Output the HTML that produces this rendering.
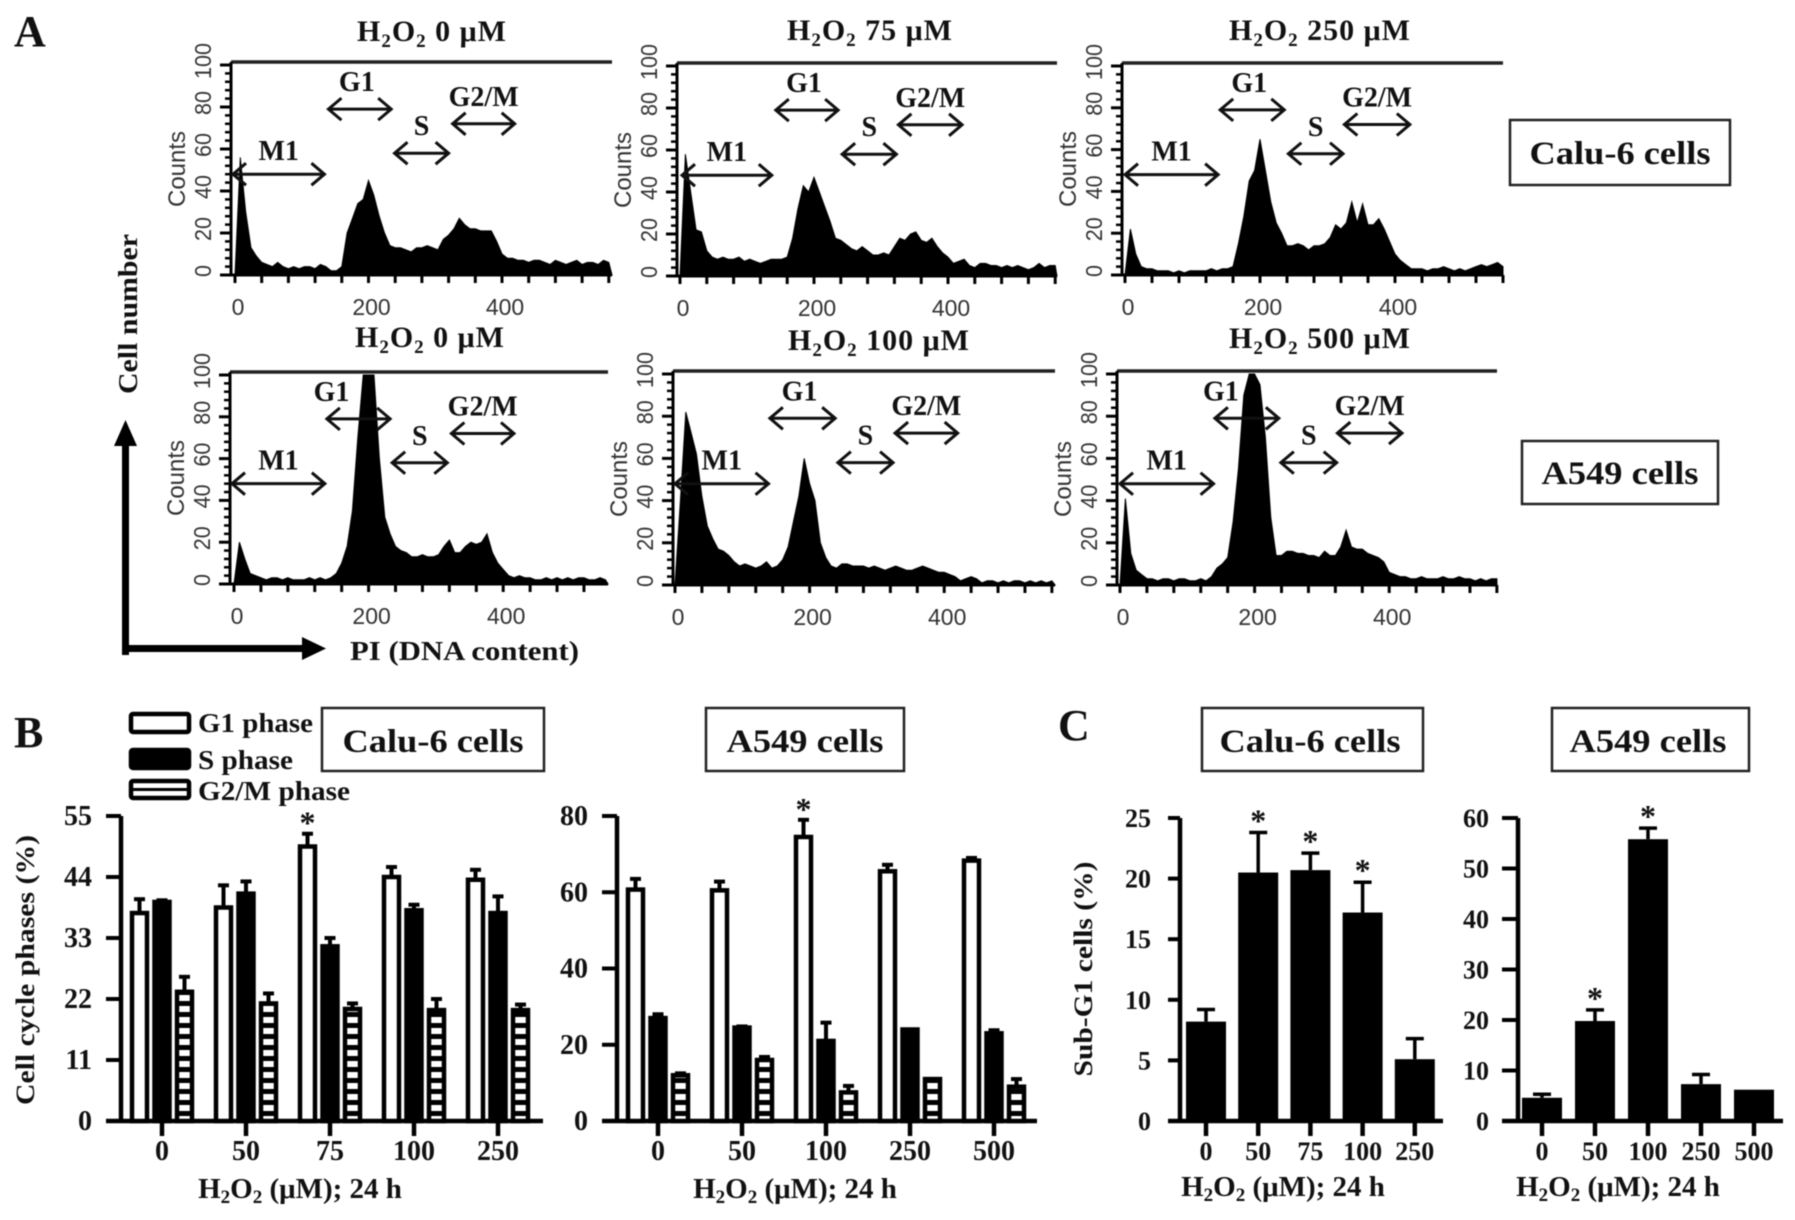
<!DOCTYPE html>
<html lang="en">
<head>
<meta charset="utf-8">
<title>Cell cycle flow cytometry figure</title>
<style>
html,body{margin:0;padding:0;background:#fff;width:1795px;height:1220px;overflow:hidden}
svg{display:block;filter:blur(.6px)}
text{font-family:"Liberation Serif",serif;font-weight:bold;fill:#111}
.sans{font-family:"Liberation Sans",sans-serif;font-weight:normal;fill:#333}
.ttl{font-size:30px;text-anchor:middle;letter-spacing:1px}
.xt{font-size:29px;text-anchor:middle}
.letter{font-size:44px}
.box{fill:#fff;stroke:#222;stroke-width:2.5}
.boxt{font-size:33px;text-anchor:middle}
</style>
</head>
<body>
<svg id="fig" xmlns="http://www.w3.org/2000/svg" width="1795" height="1220" viewBox="0 0 1795 1220">
<defs>
<pattern id="hatch" patternUnits="userSpaceOnUse" width="10" height="11"><rect width="10" height="11" fill="#fff"/><rect y="0" width="10" height="5" fill="#000"/></pattern>
</defs>
<rect width="1795" height="1220" fill="#fff"/>
<text class="letter" x="14" y="46">A</text>
<text class="letter" x="14" y="747">B</text>
<text class="letter" x="1058" y="740">C</text>

<text class="ttl" x="432" y="41">H<tspan dy="6" font-size="19">2</tspan><tspan dy="-6">O</tspan><tspan dy="6" font-size="19">2</tspan><tspan dy="-6"> 0 μM</tspan></text>
<text class="ttl" x="870" y="40">H<tspan dy="6" font-size="19">2</tspan><tspan dy="-6">O</tspan><tspan dy="6" font-size="19">2</tspan><tspan dy="-6"> 75 μM</tspan></text>
<text class="ttl" x="1320" y="40">H<tspan dy="6" font-size="19">2</tspan><tspan dy="-6">O</tspan><tspan dy="6" font-size="19">2</tspan><tspan dy="-6"> 250 μM</tspan></text>
<text class="ttl" x="430" y="347">H<tspan dy="6" font-size="19">2</tspan><tspan dy="-6">O</tspan><tspan dy="6" font-size="19">2</tspan><tspan dy="-6"> 0 μM</tspan></text>
<text class="ttl" x="879" y="350">H<tspan dy="6" font-size="19">2</tspan><tspan dy="-6">O</tspan><tspan dy="6" font-size="19">2</tspan><tspan dy="-6"> 100 μM</tspan></text>
<text class="ttl" x="1320" y="348">H<tspan dy="6" font-size="19">2</tspan><tspan dy="-6">O</tspan><tspan dy="6" font-size="19">2</tspan><tspan dy="-6"> 500 μM</tspan></text>

<g><rect class="box" x="1510" y="120" width="220" height="65"/><text class="boxt" x="1620" y="164" textLength="181" lengthAdjust="spacingAndGlyphs">Calu-6 cells</text></g>
<g><rect class="box" x="1522" y="441" width="196" height="63"/><text class="boxt" x="1620" y="484" textLength="157" lengthAdjust="spacingAndGlyphs">A549 cells</text></g>
<g><rect class="box" x="322" y="708" width="222" height="63"/><text class="boxt" x="433" y="752" textLength="181" lengthAdjust="spacingAndGlyphs">Calu-6 cells</text></g>
<g><rect class="box" x="706" y="708" width="198" height="63"/><text class="boxt" x="805" y="752" textLength="157" lengthAdjust="spacingAndGlyphs">A549 cells</text></g>
<g><rect class="box" x="1202" y="708" width="221" height="63"/><text class="boxt" x="1310" y="752" textLength="181" lengthAdjust="spacingAndGlyphs">Calu-6 cells</text></g>
<g><rect class="box" x="1552" y="708" width="197" height="63"/><text class="boxt" x="1648" y="752" textLength="157" lengthAdjust="spacingAndGlyphs">A549 cells</text></g>

<text font-size="27" transform="translate(137,314) rotate(-90)" text-anchor="middle" textLength="160" lengthAdjust="spacingAndGlyphs">Cell number</text>
<text font-size="27" x="350" y="660" textLength="229" lengthAdjust="spacingAndGlyphs">PI (DNA content)</text>
<g><rect x="122" y="440" width="7" height="215" fill="#000"/><path d="M125.500 420L137 446H114Z" fill="#000"/></g>
<g><rect x="122" y="645" width="185" height="7" fill="#000"/><path d="M326 648.500L302 637V660Z" fill="#000"/></g>

<g>
<g><rect x="131" y="714" width="58" height="18" rx="2" fill="#fff" stroke="#000" stroke-width="4.500"/><text font-size="27" x="198" y="732" textLength="115" lengthAdjust="spacingAndGlyphs">G1 phase</text></g>
<g><rect x="131" y="750" width="58" height="18" rx="2" fill="#000" stroke="#000" stroke-width="4.500"/><text font-size="27" x="198" y="769" textLength="95" lengthAdjust="spacingAndGlyphs">S phase</text></g>
<g><rect x="131" y="781" width="58" height="17" rx="2" fill="#fff" stroke="#000" stroke-width="4.500"/><rect x="131" y="788" width="58" height="3" fill="#000"/><text font-size="27" x="198" y="800" textLength="152" lengthAdjust="spacingAndGlyphs">G2/M phase</text></g>
</g>

<text font-size="26" transform="translate(34,970) rotate(-90)" text-anchor="middle" textLength="270" lengthAdjust="spacingAndGlyphs">Cell cycle phases (%)</text>
<text font-size="26" transform="translate(1092,969) rotate(-90)" text-anchor="middle" textLength="215" lengthAdjust="spacingAndGlyphs">Sub-G1 cells (%)</text>
<text class="xt" x="300" y="1198">H<tspan dy="5" font-size="19">2</tspan><tspan dy="-5">O</tspan><tspan dy="5" font-size="19">2</tspan><tspan dy="-5"> (μM); 24 h</tspan></text>
<text class="xt" x="795" y="1198">H<tspan dy="5" font-size="19">2</tspan><tspan dy="-5">O</tspan><tspan dy="5" font-size="19">2</tspan><tspan dy="-5"> (μM); 24 h</tspan></text>
<text class="xt" x="1283" y="1196">H<tspan dy="5" font-size="19">2</tspan><tspan dy="-5">O</tspan><tspan dy="5" font-size="19">2</tspan><tspan dy="-5"> (μM); 24 h</tspan></text>
<text class="xt" x="1618" y="1196">H<tspan dy="5" font-size="19">2</tspan><tspan dy="-5">O</tspan><tspan dy="5" font-size="19">2</tspan><tspan dy="-5"> (μM); 24 h</tspan></text>
<g id="charts"></g>
</svg>
<script>
// Histogram counts, one value per 8-unit PI bin (0, 8, 16, ...)
const histCalu0 = [0,56,30,13,9,6,5,4,6,4,3,4,3,4,4,3,5,4,2,2,4,20,27,34,36,45,38,28,20,14,13,13,12,11,13,13,14,13,12,17,19,22,27,24,22,22,21,21,21,16,10,8,8,7,7,6,7,7,6,5,7,6,5,6,7,5,6,6,5,7,6];
const histCalu75 = [0,58,40,22,21,12,9,8,9,8,8,9,7,8,7,6,7,8,8,8,9,18,32,43,40,47,40,33,26,18,17,15,13,12,14,12,10,10,11,10,14,18,17,20,21,17,16,18,14,11,9,6,7,8,5,4,6,6,5,5,4,5,4,5,4,3,4,6,4,5,5];
const histCalu250 = [0,22,10,4,3,3,2,2,2,1,2,1,2,2,2,2,3,2,3,3,4,15,28,45,50,65,50,35,25,20,14,14,15,14,12,14,14,15,18,24,22,25,35,25,34,24,24,27,22,16,10,7,5,3,3,3,2,3,3,4,3,2,3,2,3,4,5,4,5,6,4];
const histA5490 = [0,20,12,5,4,3,2,3,3,2,3,2,2,2,3,2,3,2,3,5,10,18,35,70,100,100,100,60,32,24,18,16,15,13,13,14,13,13,14,18,21,15,15,18,20,19,20,24,15,10,7,4,3,4,3,3,2,2,3,2,3,2,3,2,3,3,2,2,3,2,3];
const histA549100 = [0,40,82,72,62,42,28,22,17,16,14,11,9,10,9,8,9,11,8,9,12,18,30,42,60,48,40,20,13,9,8,10,10,9,9,9,8,9,8,7,8,9,8,7,7,8,9,8,7,6,6,5,4,2,3,4,3,1,2,2,1,2,1,2,2,1,2,1,2,1,2];
const histA549500 = [0,41,15,7,5,3,3,2,3,3,2,3,3,2,2,3,2,4,8,10,13,30,55,90,100,100,95,70,32,14,14,16,16,15,15,14,14,13,16,14,14,18,26,18,17,17,15,14,13,11,6,5,4,4,3,3,4,3,3,3,4,3,3,4,3,3,2,3,2,3,3];
const gateNames = ["M1","G1","S","G2/M"];
const gateLevels = [48,79,58,72];
const gatesCalu0 = [[-3,134],[140,234],[239,320],[326,419]];
const gatesCalu75 = [[3,137],[143,236],[242,323],[326,421]];
const gatesCalu250 = [[0,138],[141,236],[242,323],[325,422]];
const gatesA5490 = [[-3,135],[138,232],[235,317],[323,416]];
const gatesA549100 = [[0,139],[141,238],[242,324],[327,420]];
const gatesA549500 = [[0,139],[141,236],[239,322],[323,419]];
const histXTicks = [0,200,400];
const histYTicks = [0,20,40,60,80,100];

// Bar charts: means and upper error-bar values
const bDoses1 = ["0","50","75","100","250"];
const b1G1 = [37.500,38.500,49.500,44,43.500];
const b1G1Top = [40,42.500,51.800,45.800,45.300];
const b1S = [39.500,41,31.500,38,37.500];
const b1STop = [39.800,43.200,33,39,40.500];
const b1G2M = [23.300,21.200,20.200,20,20];
const b1G2MTop = [26,23,21.200,22,21];
const b1Stars = [0,0,1,0,0];
const b1Ticks = [0,11,22,33,44,55];

const bDoses2 = ["0","50","100","250","500"];
const b2G1 = [60.700,60.500,74.500,65.500,68.300];
const b2G1Top = [63.500,62.800,79,67.200,69];
const b2S = [27,24.500,21,24,23];
const b2STop = [28,24.800,25.800,24.200,23.800];
const b2G2M = [12,16,7.500,11,9];
const b2G2MTop = [12.500,16.800,9.200,11.200,11];
const b2Stars = [0,0,1,0,0];
const b2Ticks = [0,20,40,60,80];

const cDoses1 = ["0","50","75","100","250"];
const c1Vals = [8.200,20.500,20.700,17.200,5.100];
const c1Top = [9.200,23.800,22.100,19.700,6.800];
const c1Stars = [0,1,1,1,0];
const c1Ticks = [0,5,10,15,20,25];

const cDoses2 = ["0","50","100","250","500"];
const c2Vals = [4.600,19.800,55.800,7.300,6.200];
const c2Top = [5.300,22,58,9.200,6.300];
const c2Stars = [0,1,1,0,0];
const c2Ticks = [0,10,20,30,40,50,60];

const NS = "http://www.w3.org/2000/svg";
const root = document.getElementById("charts");
function svgEl(tag, attrs, parent, txt) {
  const el = document.createElementNS(NS, tag);
  for (const k in attrs) el.setAttribute(k, attrs[k]);
  if (txt !== undefined) el.textContent = txt;
  (parent || root).appendChild(el);
  return el;
}
function line(p, x1, y1, x2, y2, w, col) {
  return svgEl("line", {x1:x1, y1:y1, x2:x2, y2:y2, stroke:col || "#000", "stroke-width":w}, p);
}

function drawHist(name, frame, counts, gates, g1Shift) {
  const g = svgEl("g", {}, root);
  
  
  const unit = (frame.base - frame.top - 3) / 100;
  const xs = v => frame.zero + v * frame.k;
  const ys = v => frame.base - v * unit;
  const binW = 8;

  let d = "M" + xs(0) + " " + frame.base;
  counts.forEach((c, i) => {
    const a = xs(i * binW);
    if (a > frame.right) return;
    d += "L" + a.toFixed(1) + " " + ys(c).toFixed(1);
  });
  d += "L" + frame.right + " " + frame.base + "Z";
  const area = svgEl("path", {d:d, fill:"#000", stroke:"#000", "stroke-width":1}, g);
  
  

  const axes = svgEl("g", {}, g);
  
  
  line(axes, frame.axis, frame.top, frame.right, frame.top, 3.500, "#222");
  line(axes, frame.axis, frame.top, frame.axis, frame.base + 1, 3);
  line(axes, frame.axis - 8, frame.base, frame.right, frame.base, 3);
  for (let v = 0; v <= 100; v += 4) {
    line(axes, frame.axis - (v % 20 === 0 ? 11 : 6), ys(v), frame.axis, ys(v), v % 20 === 0 ? 3 : 2.500);
  }
  for (let v = 0; xs(v) <= frame.right; v += 40) {
    line(axes, xs(v), frame.base, xs(v), frame.base + 8, 3);
  }
  histXTicks.forEach(t => {
    const lab = svgEl("text", {class:"sans", x:xs(t) + 3, y:frame.base + 40, "font-size":23, "text-anchor":"middle"}, g, t);
    
    
  });
  histYTicks.forEach(t => {
    const s = String(t);
    const lab = svgEl("text", {class:"sans", "font-size":23, "text-anchor":"middle",
      transform:"translate(" + (frame.axis - 20) + "," + (ys(t) - 4) + ") rotate(-90)",
      textLength:s.length * 12, lengthAdjust:"spacingAndGlyphs"}, g, s);
    
    
  });
  const cl = svgEl("text", {class:"sans", "font-size":24, "text-anchor":"middle",
    transform:"translate(" + (frame.axis - 46) + "," + (frame.base - 106) + ") rotate(-90)"}, g, "Counts");
  
  

  gateNames.forEach((n, i) => {
    const ga = svgEl("g", {}, g);
    
    
    const a = xs(gates[i][0]), b = xs(gates[i][1]), y = ys(gateLevels[i]);
    svgEl("path", {d:"M" + a + " " + y + "H" + b + "M" + (a + 13) + " " + (y - 11) + "L" + a + " " + y + "L" + (a + 13) + " " + (y + 11) + "M" + (b - 13) + " " + (y - 11) + "L" + b + " " + y + "L" + (b - 13) + " " + (y + 11),
      fill:"none", stroke:"#111", "stroke-width":3}, ga);
    svgEl("text", {x:(a + b) / 2 + (n === "G1" ? g1Shift : 0), y:y - (i === 0 ? 14 : 18), "font-size":28, "text-anchor":"middle"}, ga, n);
  });
}

function drawBarFrame(g, f, cats, ticks, max, fs) {
  const ys = v => f.base - v / max * (f.base - f.top);
  line(g, f.axis, f.top, f.axis, f.base + 2, 4.500);
  line(g, f.left, f.base, f.right, f.base, 4.500);
  ticks.forEach(t => {
    line(g, f.left, ys(t), f.axis, ys(t), 4);
    const lab = svgEl("text", {x:f.axis - 29, y:ys(t) + 9, "font-size":fs, "text-anchor":"end"}, g, t);
    
    
  });
  cats.forEach((c, i) => {
    const x = f.x0 + i * f.dx;
    line(g, x, f.base, x, f.base + 15, 4.500);
    const lab = svgEl("text", {x:x, y:f.base + 39, "font-size":fs, "text-anchor":"middle"}, g, c);
    
    
  });
  return ys;
}

function errBar(g, x, yv, yt, w, capW) {
  if (yv - yt < 1) return;
  line(g, x, yv, x, yt, w);
  line(g, x - capW / 2, yt, x + capW / 2, yt, w);
}

function star(g, x, y) {
  const s = svgEl("text", {x:x, y:y + 15, "font-size":32, "text-anchor":"middle", "font-weight":"normal"}, g, "*");
  
  
}

function drawGrouped(name, f, cats, ticks, max, series, stars) {
  const g = svgEl("g", {}, root);
  
  
  const ys = drawBarFrame(g, f, cats, ticks, max, 28);
  const styles = [{fill:"#fff"}, {fill:"#000"}, {fill:"url(#hatch)"}];
  const phase = ["g1", "s", "g2m"];
  series.forEach((sr, si) => {
    sr.vals.forEach((v, i) => {
      const cx = f.x0 + i * f.dx + (si - 1) * f.pitch;
      errBar(g, cx, ys(v), ys(sr.top[i]), 4, 11);
      const r = svgEl("rect", {x:cx - f.bw / 2, y:ys(v), width:f.bw, height:f.base - ys(v), fill:styles[si].fill, stroke:"#000", "stroke-width":4.500}, g);
      
      
      if (si === 0 && stars[i]) star(g, cx, ys(sr.top[i]) - 15);
    });
  });
}

function drawSingle(name, f, cats, ticks, max, vals, top, stars) {
  const g = svgEl("g", {}, root);
  
  
  const ys = drawBarFrame(g, f, cats, ticks, max, 26);
  vals.forEach((v, i) => {
    const cx = f.x0 + i * f.dx;
    errBar(g, cx, ys(v), ys(top[i]), 3.500, 18);
    const r = svgEl("rect", {x:cx - f.bw / 2, y:ys(v), width:f.bw, height:f.base - ys(v), fill:"#000"}, g);
    
    
    if (stars[i]) star(g, cx, ys(top[i]) - 16);
  });
}

drawHist("calu6-0", {axis:231, zero:235, k:.6675, right:612, top:62, base:275}, histCalu0, gatesCalu0, -3);
drawHist("calu6-75", {axis:677, zero:680, k:.67, right:1057, top:63, base:276}, histCalu75, gatesCalu75, -3);
drawHist("calu6-250", {axis:1122, zero:1125, k:.675, right:1503, top:63, base:275}, histCalu250, gatesCalu250, -3);
drawHist("a549-0", {axis:230, zero:234, k:.673, right:608, top:372, base:584}, histA5490, gatesA5490, -27);
drawHist("a549-100", {axis:673, zero:675, k:.673, right:1055, top:371, base:585}, histA549100, gatesA549100, -3);
drawHist("a549-500", {axis:1117, zero:1120, k:.673, right:1497, top:371, base:585}, histA549500, gatesA549500, -26);

drawGrouped("b-calu6", {axis:121, left:106, right:543, top:816, base:1121, x0:162, dx:84, pitch:22.500, bw:15}, bDoses1, b1Ticks, 55,
  [{vals:b1G1, top:b1G1Top}, {vals:b1S, top:b1STop}, {vals:b1G2M, top:b1G2MTop}], b1Stars);
drawGrouped("b-a549", {axis:617, left:602, right:1037, top:816, base:1121, x0:658, dx:84, pitch:22.500, bw:15}, bDoses2, b2Ticks, 80,
  [{vals:b2G1, top:b2G1Top}, {vals:b2S, top:b2STop}, {vals:b2G2M, top:b2G2MTop}], b2Stars);
drawSingle("c-calu6", {axis:1180, left:1168, right:1443, top:818, base:1121, x0:1206, dx:52.200, bw:40}, cDoses1, c1Ticks, 25, c1Vals, c1Top, c1Stars);
drawSingle("c-a549", {axis:1518, left:1502, right:1783, top:818, base:1121, x0:1542, dx:53, bw:40}, cDoses2, c2Ticks, 60, c2Vals, c2Top, c2Stars);
</script>
</body>
</html>
